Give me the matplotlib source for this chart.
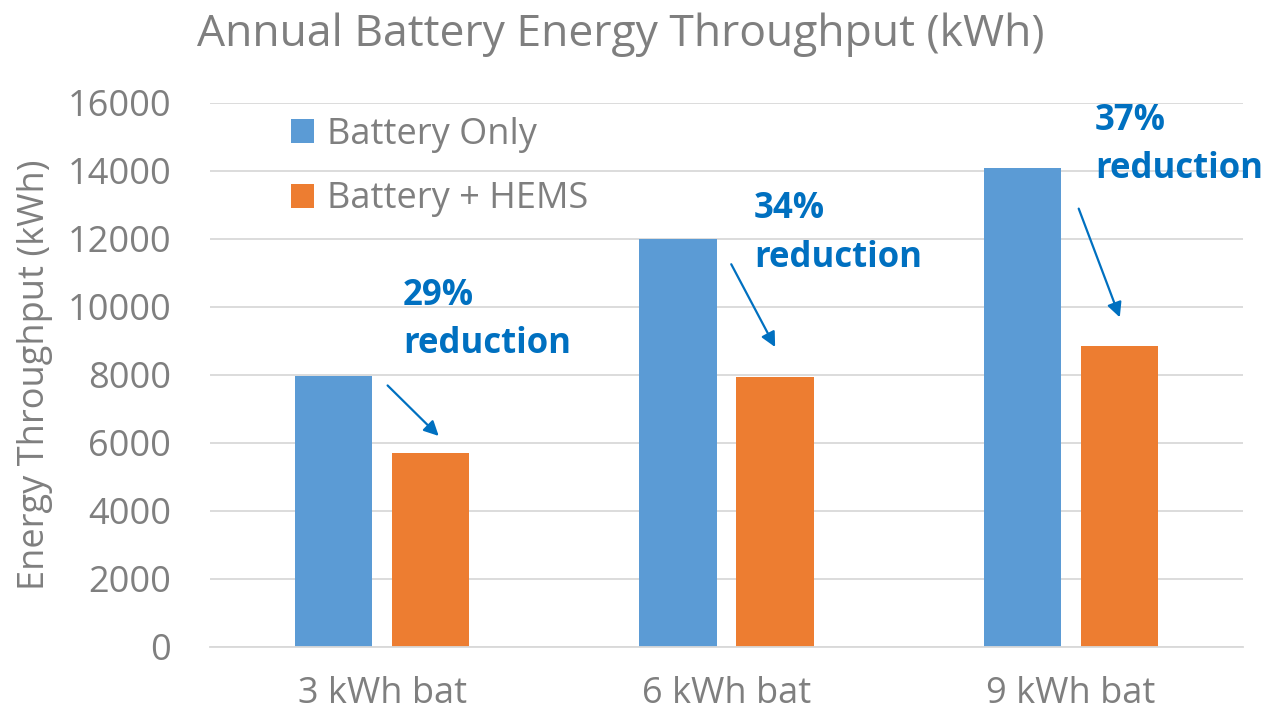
import numpy as np
import matplotlib
matplotlib.use('Agg')
import matplotlib.pyplot as plt

# data
categories = ['3 kWh bat', '6 kWh bat', '9 kWh bat']
battery_only = [7970, 12000, 14090]
battery_hems = [5700, 7940, 8850]
reductions = ['29%\nreduction', '34%\nreduction', '37%\nreduction']

plt.rcParams['font.family'] = ['Open Sans', 'DejaVu Sans']
grey = '#7F7F7F'
blue = '#5B9BD5'
orange = '#ED7D31'
note = '#0070C0'

fig = plt.figure(figsize=(12.7, 7.16), dpi=100)
ax = fig.add_axes([210/1270, 69/716, 1033/1270, 544/716])

x = np.arange(len(categories))
w = 0.224
off = 0.141
ax.bar(x - off, battery_only, w, color=blue, label='Battery Only', zorder=2)
ax.bar(x + off, battery_hems, w, color=orange, label='Battery + HEMS', zorder=2)

ax.set_xlim(-0.5, 2.5)
ax.set_ylim(0, 16000)
ax.set_yticks(np.arange(0, 16001, 2000))
ax.set_xticks(x)
ax.set_xticklabels(categories)
ax.tick_params(axis='both', length=0, labelsize=26, labelcolor=grey)
ax.tick_params(axis='x', pad=21)
ax.tick_params(axis='y', pad=28)
ax.grid(axis='y', color='#D9D9D9', linewidth=1.3, zorder=0)
for s in ['top', 'right', 'left']:
    ax.spines[s].set_visible(False)
ax.spines['bottom'].set_color('#D9D9D9')
ax.spines['bottom'].set_linewidth(1.3)

ax.set_ylabel('Energy Throughput (kWh)', fontsize=26, color=grey, labelpad=10)
fig.suptitle('Annual Battery Energy Throughput (kWh)', fontsize=32, color=grey,
             x=0.489, y=0.983)

leg = ax.legend(loc='upper left', bbox_to_anchor=(0.078, 0.975), frameon=False,
                fontsize=26, labelcolor=grey, handlelength=0.65, handleheight=0.65,
                handletextpad=0.35, labelspacing=0.8, borderpad=0,
                borderaxespad=0)

# reduction notes and arrows (start/end in data coords)
text_pos = [(0.06, 10850), (1.08, 13400), (2.07, 16000)]
arrows = [((0.01, 7750), (0.17, 6150)),
          ((1.01, 11330), (1.145, 8750)),
          ((2.02, 12970), (2.145, 9620))]
for t, (tx, ty), (a0, a1) in zip(reductions, text_pos, arrows):
    ax.text(tx, ty, t, color=note, fontsize=25, fontweight='bold',
            va='top', ha='left', linespacing=1.45)
    ax.annotate('', xy=a1, xytext=a0,
                arrowprops=dict(arrowstyle='-|>', color=note, lw=1.6,
                                mutation_scale=22))

fig.savefig('out.png', dpi=100)
